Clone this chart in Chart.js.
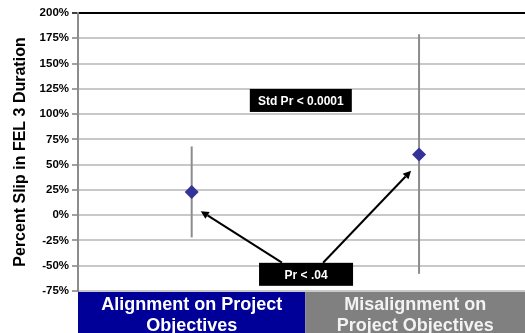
<!DOCTYPE html>
<html>
<head>
<meta charset="utf-8">
<script src="https://cdn.jsdelivr.net/npm/chart.js@4/dist/chart.umd.min.js"></script>
<style>
  html, body { margin: 0; padding: 0; background: #fff; }
  #wrap { width: 525px; height: 333px; }
</style>
</head>
<body>
<div id="wrap"><canvas id="c" width="525" height="333"></canvas></div>
<script>
// Groups shown along the bottom band
const categories = ['Alignment on Project\nObjectives', 'Misalignment on\nProject Objectives'];
const categoryColors = ['#000099', '#808080'];
const categoryTextColors = ['#ffffff', '#f2f2f2'];

// Mean percent slip and the spread (low / high) per group
const meanSlip = [23, 60];
const lowSlip = [-22, -58];
const highSlip = [68, 179];

// Y-axis ticks
const yTicks = [200, 175, 150, 125, 100, 75, 50, 25, 0, -25, -50, -75];

// Callout labels and arrows (data units)
const callouts = [
  { text: 'Std Pr < 0.0001', x: 1.48, y: 113.5, w: 102, h: 23 },
  { text: 'Pr < .04', x: 1.503, y: -58.5, w: 94, h: 23 }
];
const arrows = [
  { from: [1.397, -47], to: [1.04, 4] },
  { from: [1.578, -47], to: [1.965, 44] }
];

const FONT = '"Liberation Sans", Arial, sans-serif';

const points = meanSlip.map((v, i) => ({ x: i + 1, y: v }));
const errorSets = meanSlip.map((v, i) => ({
  type: 'line',
  data: [{ x: i + 1, y: lowSlip[i] }, { x: i + 1, y: highSlip[i] }],
  borderColor: '#8c8c8c',
  borderWidth: 2,
  pointRadius: 0,
  showLine: true,
  order: 2
}));

const overlay = {
  id: 'overlay',
  afterDraw(chart) {
    const ctx = chart.ctx;
    const xs = chart.scales.x, ys = chart.scales.y;
    const area = chart.chartArea;

    // category band under the plot
    const left = xs.getPixelForValue(0.5);
    const mid = xs.getPixelForValue(1.5);
    const bounds = [[left, mid], [mid, chart.width]];
    ctx.save();
    categories.forEach((c, i) => {
      const [x0, x1] = bounds[i];
      ctx.fillStyle = categoryColors[i];
      ctx.fillRect(x0, area.bottom + 1, x1 - x0, chart.height - area.bottom - 1);
      ctx.fillStyle = categoryTextColors[i];
      ctx.font = 'bold 18px ' + FONT;
      ctx.textAlign = 'center';
      ctx.textBaseline = 'middle';
      const lines = c.split('\n');
      const cx = (x0 + x1) / 2;
      lines.forEach((l, k) => ctx.fillText(l, cx, area.bottom + 14 + k * 21));
    });

    // arrows
    ctx.strokeStyle = '#000';
    ctx.fillStyle = '#000';
    ctx.lineWidth = 2;
    arrows.forEach(a => {
      const x0 = xs.getPixelForValue(a.from[0]), y0 = ys.getPixelForValue(a.from[1]);
      const x1 = xs.getPixelForValue(a.to[0]), y1 = ys.getPixelForValue(a.to[1]);
      const ang = Math.atan2(y1 - y0, x1 - x0);
      const hl = 8, hw = 4;
      const bx = x1 - hl * Math.cos(ang), by = y1 - hl * Math.sin(ang);
      ctx.beginPath();
      ctx.moveTo(x0, y0);
      ctx.lineTo(bx, by);
      ctx.stroke();
      ctx.beginPath();
      ctx.moveTo(x1, y1);
      ctx.lineTo(bx + hw * Math.sin(ang), by - hw * Math.cos(ang));
      ctx.lineTo(bx - hw * Math.sin(ang), by + hw * Math.cos(ang));
      ctx.closePath();
      ctx.fill();
    });

    // callout boxes
    callouts.forEach(cb => {
      const cx = xs.getPixelForValue(cb.x), cy = ys.getPixelForValue(cb.y);
      ctx.fillStyle = '#000';
      ctx.fillRect(cx - cb.w / 2, cy - cb.h / 2, cb.w, cb.h);
      ctx.fillStyle = '#fff';
      ctx.font = 'bold 12px ' + FONT;
      ctx.textAlign = 'center';
      ctx.textBaseline = 'middle';
      ctx.fillText(cb.text, cx, cy + 1);
    });
    ctx.restore();
  }
};

new Chart(document.getElementById('c'), {
  type: 'scatter',
  data: {
    datasets: [
      {
        data: points,
        pointStyle: 'rectRot',
        pointRadius: 7,
        pointHoverRadius: 7,
        backgroundColor: '#333399',
        borderColor: '#333399',
        borderWidth: 0,
        order: 1
      },
      ...errorSets
    ]
  },
  options: {
    responsive: false,
    animation: false,
    events: [],
    layout: { autoPadding: false, padding: { top: 13, bottom: 42, right: 0, left: 0 } },
    plugins: { legend: { display: false }, tooltip: { enabled: false } },
    scales: {
      x: {
        type: 'linear',
        min: 0.5,
        max: 2.466,
        display: false
      },
      y: {
        min: -75,
        max: 200,
        afterBuildTicks(scale) { scale.ticks = yTicks.map(v => ({ value: v })); },
        afterFit(scale) { scale.width = 78; },
        ticks: {
          color: '#000',
          font: { family: FONT, weight: 'bold', size: 11.5 },
          padding: 3,
          callback: v => v + '%'
        },
        grid: {
          color: ctx => (ctx.tick && ctx.tick.value === 200 ? '#000000' : '#c8c8c8'),
          lineWidth: 2,
          tickLength: 6,
          tickColor: ctx => (ctx.tick && ctx.tick.value === 200 ? '#000000' : '#808080'),
          tickWidth: 1.5
        },
        border: { color: '#8c8c8c', width: 2 },
        title: {
          display: true,
          text: 'Percent Slip in FEL 3 Duration',
          color: '#000',
          font: { family: FONT, weight: 'bold', size: 16 },
          padding: { top: 11, bottom: 4 }
        }
      }
    }
  },
  plugins: [overlay]
});
</script>
</body>
</html>
